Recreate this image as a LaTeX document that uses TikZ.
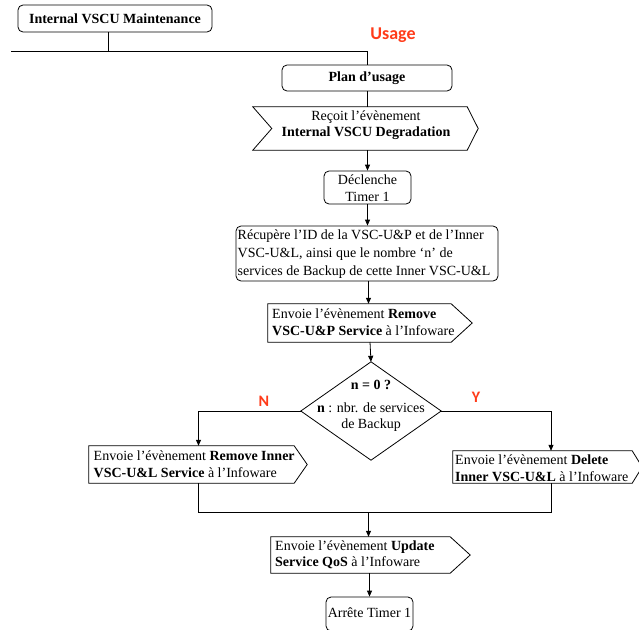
\documentclass[tikz,border=0pt]{standalone}
\usepackage{fontspec}
\setmainfont{Liberation Serif}
\newfontfamily\labfont{Carlito}
\usetikzlibrary{arrows.meta,calc}
\definecolor{lblred}{RGB}{255,59,25}
\newcommand\chevshape[3]{\draw[outl] (#1.north west) -- (#1.north east) -- ([xshift=#2pt]#1.east) -- (#1.south east) -- (#1.south west) -- ([xshift=#3pt]#1.west) -- cycle;}
\begin{document}
\begin{tikzpicture}[x=1pt,y=-1pt,
  outl/.style={draw=black,line width=0.8pt},
  body/.style={draw=none,rectangle,inner sep=0pt},
  rbox/.style={outl,rectangle,rounded corners=5pt,inner sep=0pt},
  txt/.style={inner sep=0pt,font=\fontsize{14}{16.5}\selectfont},
  btxt/.style={inner sep=0pt,font=\fontsize{14}{16.5}\selectfont\bfseries},
  lbl/.style={inner sep=0pt,text=lblred,font=\labfont\bfseries\fontsize{16}{18}\selectfont},
  conn/.style={draw=black,line width=0.8pt},
  arr/.style={conn,-{Triangle[length=6pt,width=5pt]}}]
\useasboundingbox (0,0) rectangle (639,629);

% boxes
\node[rbox,minimum width=194pt,minimum height=27pt] (maint) at (115,18.5) {};
\node[btxt] (maintt) at (115,18.5) {Internal VSCU Maintenance};
\node[lbl,font=\labfont\bfseries\fontsize{18}{20}\selectfont] (usage) at (393,35) {Usage};
\node[rbox,minimum width=170pt,minimum height=26pt] (plan) at (367,78) {};
\node[btxt] (plant) at (367,78) {Plan d’usage};

\node[body,minimum width=214pt,minimum height=43pt] (recv) at (360,128.5) {};
\chevshape{recv}{11}{19}
\node[txt,align=center] (recvt) at (366,125) {Reçoit l’évènement\\\textbf{Internal VSCU Degradation}};

\node[rbox,minimum width=87pt,minimum height=33pt] (timer) at (367.5,187.5) {};
\node[txt,align=center] (timert) at (367.5,188) {Déclenche\\Timer 1};

\node[rbox,minimum width=262pt,minimum height=55pt] (recup) at (367,253.5) {};
\node[txt,align=left,anchor=west,font=\fontsize{14}{18}\selectfont] (recupt) at (237.5,254) {Récupère l’ID de la VSC-U\&P et de l’Inner\\VSC-U\&L, ainsi que le nombre ‘n’ de\\services de Backup de cette Inner VSC-U\&L};

\node[body,minimum width=183pt,minimum height=38pt] (rmup) at (359.5,323) {};
\chevshape{rmup}{21}{0}
\node[txt,align=left,anchor=west] (rmupt) at (272,322) {Envoie l’évènement \textbf{Remove}\\\textbf{VSC-U\&P Service} à l’Infoware};

\node[body,minimum width=140pt,minimum height=98pt] (dec) at (371,411) {};
\draw[outl] (dec.north) -- (dec.east) -- (dec.south) -- (dec.west) -- cycle;
\node[txt,align=center] (dect) at (371,406) {\textbf{n = 0 ?}\\[6pt]\textbf{n} : nbr. de services\\de Backup};

\node[lbl] (nlab) at (264,401) {N};
\node[lbl] (ylab) at (476,397) {Y};

\node[body,minimum width=205pt,minimum height=37pt] (rmul) at (191.5,464.5) {};
\chevshape{rmul}{13}{0}
\node[txt,align=left,anchor=west] (rmult) at (93.5,464) {Envoie l’évènement \textbf{Remove Inner}\\\textbf{VSC-U\&L Service} à l’Infoware};

\node[body,minimum width=179pt,minimum height=32pt] (del) at (542.5,467) {};
\chevshape{del}{10}{0}
\node[txt,align=left,anchor=west] (delt) at (455,468) {Envoie l’évènement \textbf{Delete}\\\textbf{Inner VSC-U\&L} à l’Infoware};

\node[body,minimum width=179pt,minimum height=36pt] (upd) at (360.5,555) {};
\chevshape{upd}{20}{0}
\node[txt,align=left,anchor=west] (updt) at (275,555) {Envoie l’évènement \textbf{Update}\\\textbf{Service QoS} à l’Infoware};

\node[rbox,minimum width=87pt,minimum height=34pt] (stop) at (369.5,614) {};
\node[txt] (stopt) at (369.5,613) {Arrête Timer 1};

% connectors
\coordinate (busL) at (11,51);
\coordinate (mdrop) at (108,32);
\draw[conn] (mdrop) -- (mdrop |- busL);
\draw[conn] (busL) -- (busL -| plan.north) -- (plan.north);
\draw[conn] (plan.south) -- (plan.south |- recv.north);
\draw[arr] (timer.north |- recv.south) -- (timer.north);
\draw[arr] (timer.south) -- (timer.south |- recup.north);
\coordinate (sp1) at (368.5,281);
\draw[arr] (sp1) -- (sp1 |- rmup.north);
\coordinate (sp2) at (370,342);
\draw[arr] (sp2) -- (dec.north);
\coordinate (lbr) at (198.5,0);
\coordinate (rbr) at (551,0);
\draw[arr] (dec.west) -- (dec.west -| lbr) -- (lbr |- rmul.north);
\draw[arr] (dec.east) -- (dec.east -| rbr) -- (rbr |- del.north);
\coordinate (mrg) at (368.5,512);
\draw[conn] (lbr |- rmul.south) -- (lbr |- mrg) -- (rbr |- mrg) -- (rbr |- del.south);
\draw[arr] (mrg) -- (mrg |- upd.north);
\draw[arr] (stop.north |- upd.south) -- (stop.north);
\end{tikzpicture}
\end{document}
